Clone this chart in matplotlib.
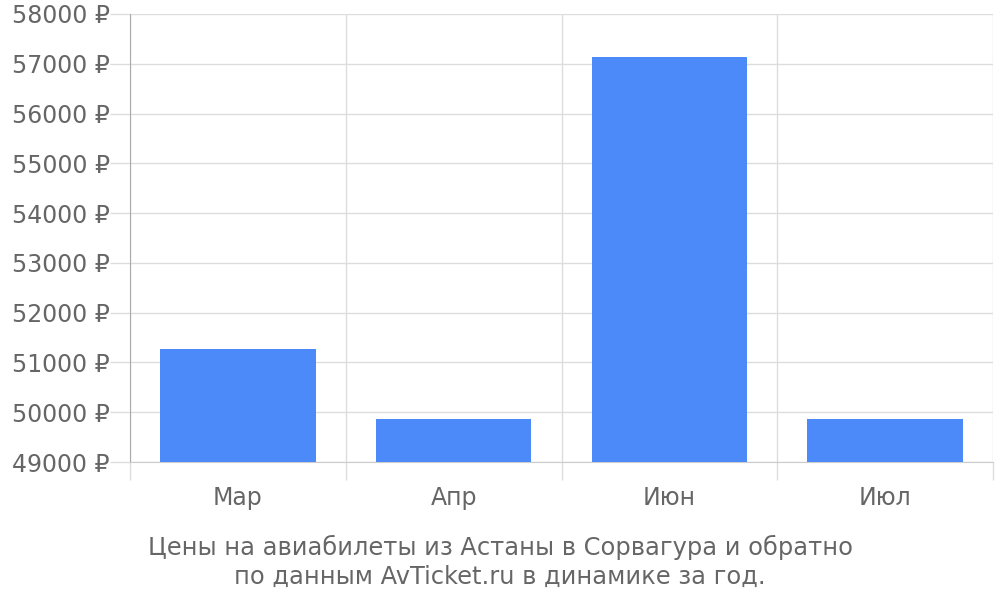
import matplotlib
matplotlib.use("Agg")
import matplotlib.pyplot as plt
import numpy as np

months = ["Мар", "Апр", "Июн", "Июл"]
prices = [51270, 49865, 57135, 49865]
y_ticks = list(range(49000, 58001, 1000))
caption = "Цены на авиабилеты из Астаны в Сорвагура и обратно\nпо данным AvTicket.ru в динамике за год."

text_color = "#666666"
grid_color = "#dddddd"
bar_color = "#4d8af9"

plt.rcParams['font.family'] = ['DejaVu Sans']

fig = plt.figure(figsize=(10, 6), dpi=100)
ax = fig.add_axes([0.13, 0.23, 0.863, 0.7467])

x = np.arange(len(months))
ax.bar(x, prices, width=0.72, color=bar_color, zorder=3)

ax.set_xlim(-0.5, len(months) - 0.5)
ax.set_ylim(49000, 58000)

# tick lengths/pads are in points (0.72 pt per px at dpi 100)
ax.set_yticks(y_ticks)
ax.set_yticklabels([f"{v} ₽" for v in y_ticks])
ax.tick_params(axis='y', length=14.4, width=1, color=grid_color, labelsize=17,
               labelcolor=text_color, pad=0)
ax.yaxis.grid(True, color=grid_color, linewidth=1, zorder=0)

# category boundaries as major ticks, labels at centers as minor ticks
ax.set_xticks(np.arange(-0.5, len(months), 1.0))
ax.set_xticklabels([])
ax.set_xticks(x, minor=True)
ax.set_xticklabels(months, minor=True)
ax.tick_params(axis='x', which='major', length=13, width=1, color=grid_color)
ax.tick_params(axis='x', which='minor', length=0, labelsize=17,
               labelcolor=text_color, pad=17)
ax.xaxis.grid(True, which='major', color=grid_color, linewidth=1, zorder=0)

for side in ['top', 'right']:
    ax.spines[side].set_visible(False)
ax.spines['left'].set_color("#aaaaaa")
ax.spines['bottom'].set_color("#cccccc")

fig.text(0.5, 0.064, caption, ha='center', va='center', fontsize=17.4,
         color=text_color, linespacing=1.25)

fig.savefig("out.png", dpi=100)
